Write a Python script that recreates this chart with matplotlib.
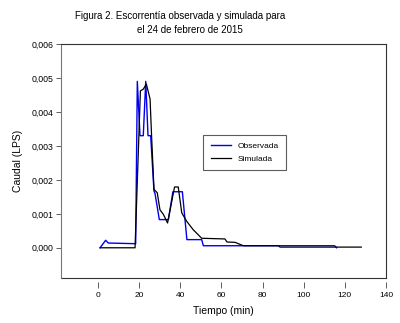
import matplotlib
matplotlib.use('Agg')
import matplotlib.pyplot as plt

plt.rcParams['font.family'] = ['Liberation Sans', 'DejaVu Sans']

# datos (tiempo en min, caudal en LPS)
t_obs = [1, 3.7, 5.0, 18.3, 19.1, 20.4, 22.0, 23.2, 24.3, 25.6, 27.2, 27.7, 29.8,
         34.2, 36.4, 41.0, 43.2, 50.4, 51.2, 115.0, 116.0]
q_obs = [0, 0.00022, 0.00014, 0.00012, 0.0049, 0.0033, 0.0033, 0.0049, 0.0033,
         0.0033, 0.00167, 0.00160, 0.00083, 0.00083, 0.00165, 0.00165, 0.00024,
         0.00024, 0.00006, 0.00006, 0.0]

t_sim = [1, 18.0, 20.6, 22.0, 23.5, 25.3, 26.1, 27.2, 28.8, 30.1, 31.8, 33.8, 35.0,
         37.2, 39.0, 40.7, 43.1, 46.3, 50.4, 61.7, 62.7, 66.6, 70.7, 87.6, 88.5, 128]
q_sim = [0, 0, 0.00462, 0.00467, 0.00482, 0.00438, 0.0032, 0.00172, 0.00162,
         0.00112, 0.00098, 0.00073, 0.0011, 0.00179, 0.00179, 0.00103, 0.00078,
         0.00053, 0.00028, 0.00026, 0.00017, 0.00016, 0.00006, 0.00006, 0.00002,
         0.00002]

xticks = [0, 20, 40, 60, 80, 100, 120, 140]
yticks = [0, 0.001, 0.002, 0.003, 0.004, 0.005, 0.006]
ylabels = ['0,000', '0,001', '0,002', '0,003', '0,004', '0,005', '0,006']

fig = plt.figure(figsize=(4, 3.23), dpi=100)
ax = fig.add_axes([0.1525, 0.1393, 0.8125, 0.7245])

ax.plot(t_obs, q_obs, color='#0000ee', lw=1.0, label='Observada')
ax.plot(t_sim, q_sim, color='black', lw=0.9, label='Simulada')

ax.set_xlim(-18, 140)
ax.set_ylim(-0.00089, 0.006)
ax.set_xticks(xticks)
ax.set_yticks(yticks)
ax.set_yticklabels(ylabels)
ax.tick_params(axis='x', labelsize=6, length=4, width=0.6, pad=3, color='#444444')
ax.tick_params(axis='y', labelsize=6.3, length=3.5, width=0.6, pad=2, color='#444444')

for s in ax.spines.values():
    s.set_linewidth(0.8)
    s.set_color('#333333')
ax.spines['left'].set_color('#777777')
ax.spines['bottom'].set_position(('outward', 3))
ax.spines['bottom'].set_visible(False)
ax.plot([0, 1], [0, 0], transform=ax.transAxes, color='#333333', lw=0.8, clip_on=False)

ax.set_xlabel('Tiempo (min)', fontsize=7.5, labelpad=5)
ax.set_ylabel('Caudal (LPS)', fontsize=7.5, labelpad=6)

leg = ax.legend(loc='upper left', bbox_to_anchor=(0.437, 0.611), fontsize=6,
                frameon=True, fancybox=False, edgecolor='#333333',
                handlelength=2.5, handletextpad=0.7, borderaxespad=0, borderpad=0.9,
                labelspacing=0.55)
leg.get_frame().set_linewidth(0.8)

fig.text(0.45, 1 - 16 / 323, 'Figura 2. Escorrentía observada y simulada para',
         ha='center', va='center', fontsize=7.0)
fig.text(0.474, 1 - 30 / 323, 'el 24 de febrero de 2015',
         ha='center', va='center', fontsize=7.0)

fig.savefig('out.png', dpi=100)
